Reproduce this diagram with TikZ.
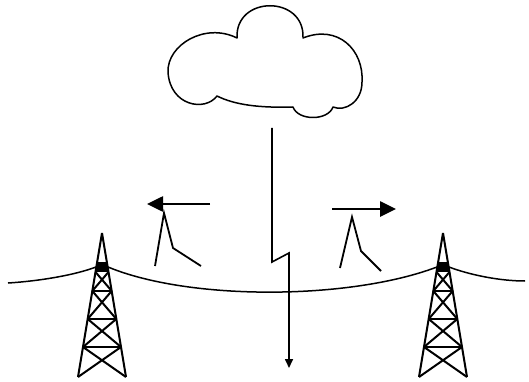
\documentclass[tikz,border=0pt]{standalone}
\usetikzlibrary{arrows.meta}

\tikzset{
  wire/.style={line width=1.5pt, line join=round},
  cloudline/.style={line width=1.5pt, line join=round},
  bolt/.style={line width=1.6pt, -{Triangle[length=9pt,width=8pt]}},
  travel/.style={line width=2.6pt, -{Triangle[length=16pt,width=15pt]}},
  surge/.style={line width=1.8pt, line join=miter},
  pylon/.pic={
    \begin{scope}[line width=2pt, line join=round]
      % outer legs
      \draw (0,0) -- (-24,144);
      \draw (0,0) -- (24,144);
      % cross arms
      \draw (-9.7,58) -- (9.7,58);
      \draw (-14.3,86) -- (14.3,86);
      \draw (-19,114) -- (19,114);
      % bracing
      \draw (-6.5,39) -- (9.7,58) (6.5,39) -- (-9.7,58);
      \draw (-9.7,58) -- (14.3,86) (9.7,58) -- (-14.3,86);
      \draw (-14.3,86) -- (19,114) (14.3,86) -- (-19,114);
      \draw (-19,114) -- (24,144) (19,114) -- (-24,144);
      % insulator head
      \fill (-6,29) rectangle (6,39);
    \end{scope}
    \coordinate (-left) at (-6,34);
    \coordinate (-right) at (6,34);
  }
}

\begin{document}
\begin{tikzpicture}[x=1pt,y=-1pt]
  \useasboundingbox (0,0) rectangle (529,382);

  % thundercloud
  \draw[cloudline]
    (217,96) .. controls (205,112) and (170,106) .. (168,72)
    .. controls (167,45) and (205,22) .. (237,38)
    .. controls (235,-5) and (305,-5) .. (303,38)
    .. controls (338,24) and (364,50) .. (362,82)
    .. controls (362,102) and (345,112) .. (333,107)
    .. controls (328,121) and (298,121) .. (293,107)
    .. controls (260,108) and (235,105) .. (217,96) -- cycle;

  % towers
  \pic (tl) at (102,233) {pylon};
  \pic (tr) at (443,233) {pylon};

  % line ends
  \coordinate (wl) at (8,283);
  \coordinate (wr) at (525,281);

  % conductors
  \draw[wire] (wl) .. controls (40,281) and (75,275) .. (tl-left);
  \draw[wire] (tl-right) .. controls (190,301) and (350,300) .. (tr-left);
  \draw[wire] (tr-right) .. controls (470,275) and (500,281) .. (wr);

  % lightning stroke
  \coordinate (b0) at (272,128);
  \coordinate (b1) at (272,262);
  \coordinate (b2) at (289,253);
  \coordinate (b3) at (289,368);
  \draw[bolt] (b0) -- (b1) -- (b2) -- (b3);

  % travelling waves
  \coordinate (al0) at (210,204);
  \coordinate (al1) at (147,204);
  \draw[travel] (al0) -- (al1);
  \coordinate (ar0) at (332,209);
  \coordinate (ar1) at (396,209);
  \draw[travel] (ar0) -- (ar1);

  % surge wave shapes
  \draw[surge] (155,266) -- (164,213) -- (173,248) -- (201,266);
  \draw[surge] (340,268) -- (352,217) -- (361,251) -- (381,271);
\end{tikzpicture}
\end{document}
